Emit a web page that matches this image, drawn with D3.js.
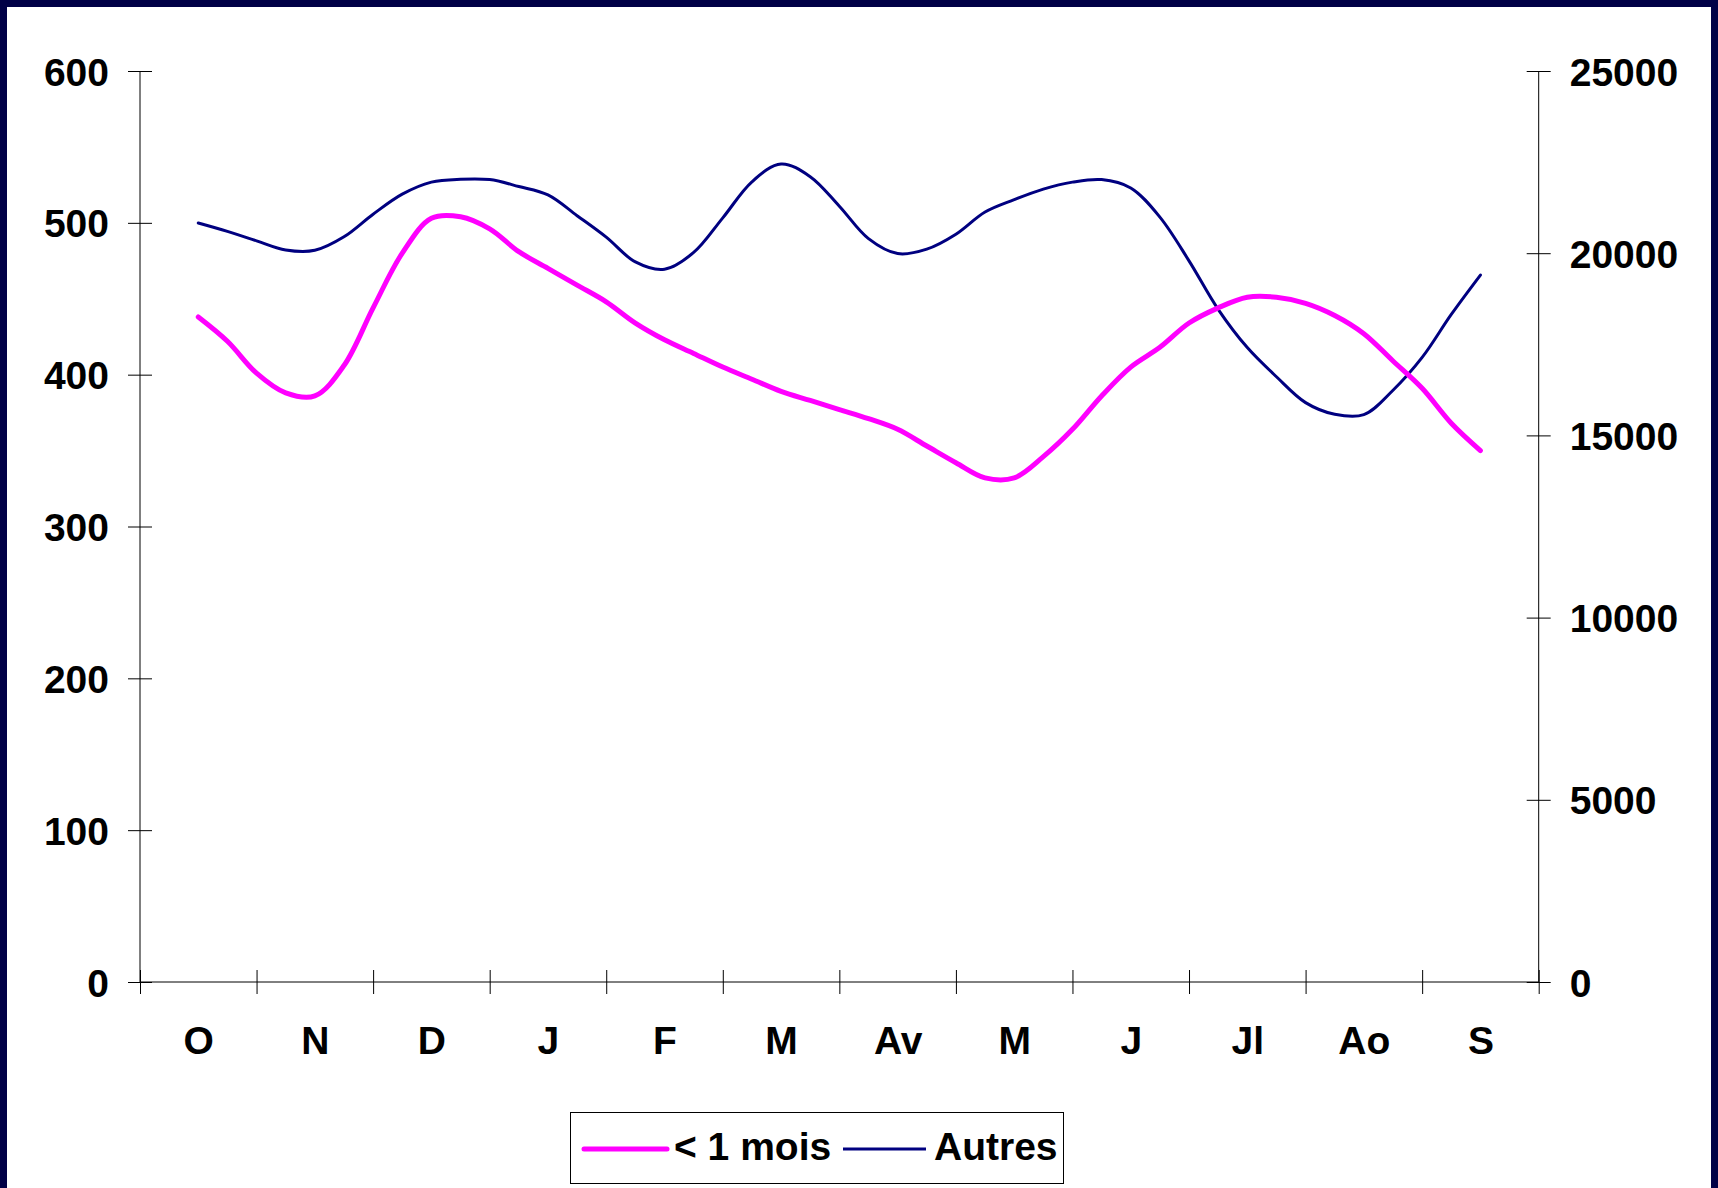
<!DOCTYPE html>
<html>
<head>
<meta charset="utf-8">
<script src="https://cdn.jsdelivr.net/npm/d3@7"></script>
<style>
  html, body { margin: 0; padding: 0; background: #000046; }
  svg { display: block; }
  text { font-family: "Liberation Sans", Arial, sans-serif; font-weight: bold; fill: #000; }
</style>
</head>
<body>
<svg id="chart" width="1718" height="1188"></svg>
<script>
// Months of the season, October to September
const months = ["O", "N", "D", "J", "F", "M", "Av", "M", "J", "Jl", "Ao", "S"];
// Readings are taken four times per month
const readingsPerMonth = 4;

// Cases under one month old (left axis)
const lessThanOneMonth = [438, 422, 401, 388, 386, 406, 444, 480, 503, 504, 496, 481, 470, 459, 448,
  434, 423, 414, 405, 397, 389, 383, 377, 371, 364, 353, 342, 332, 332, 346, 364, 386, 405, 418,
  434, 444, 451, 451, 447, 439, 427, 409, 391, 368, 350];

// All other cases (right axis)
const autres = [20830, 20600, 20340, 20090, 20080, 20450, 21070, 21620, 21950, 22030, 22020, 21830,
  21600, 21030, 20440, 19760, 19560, 20020, 20970, 21960, 22450, 22100, 21290, 20400, 19990, 20110,
  20520, 21130, 21470, 21760, 21950, 22020, 21790, 20990, 19790, 18460, 17410, 16610, 15900, 15580,
  15570, 16240, 17140, 18320, 19400];

const leftTicks = [0, 100, 200, 300, 400, 500, 600];
const rightTicks = [0, 5000, 10000, 15000, 20000, 25000];

const W = 1718, H = 1188;
const svg = d3.select("#chart");

// Frame and white chart area
svg.append("rect").attr("x", 0).attr("y", 0).attr("width", W).attr("height", H).attr("fill", "#000046");
svg.append("rect").attr("x", 7).attr("y", 7).attr("width", 1704).attr("height", H).attr("fill", "#fff");

const plot = { left: 140, right: 1538.7, top: 71, bottom: 982 };

const x = d3.scaleLinear().domain([-0.5, months.length - 0.5]).range([plot.left, plot.right]);
const yL = d3.scaleLinear().domain([0, 600]).range([plot.bottom, plot.top]);
const yR = d3.scaleLinear().domain([0, 25000]).range([plot.bottom, plot.top]);

const axisFont = 39;

// Left axis
const gL = svg.append("g").attr("transform", `translate(${plot.left},0)`)
  .call(d3.axisLeft(yL).tickValues(leftTicks).tickSize(12).tickPadding(19).tickFormat(d3.format("d")));
gL.select(".domain").remove();
gL.selectAll(".tick line").attr("x1", 12).attr("stroke", "#000");
gL.selectAll(".tick text").attr("font-size", axisFont).attr("font-family", null)
  .attr("dy", "0.36em");
svg.append("line").attr("x1", plot.left).attr("x2", plot.left)
  .attr("y1", plot.top).attr("y2", plot.bottom).attr("stroke", "#000").attr("stroke-width", 1);

// Right axis
const gR = svg.append("g").attr("transform", `translate(${plot.right},0)`)
  .call(d3.axisRight(yR).tickValues(rightTicks).tickSize(12).tickPadding(19).tickFormat(d3.format("d")));
gR.select(".domain").remove();
gR.selectAll(".tick line").attr("x1", -12).attr("stroke", "#000");
gR.selectAll(".tick text").attr("font-size", axisFont).attr("font-family", null)
  .attr("dy", "0.36em");
svg.append("line").attr("x1", plot.right).attr("x2", plot.right)
  .attr("y1", plot.top).attr("y2", plot.bottom).attr("stroke", "#000").attr("stroke-width", 1);

// Category axis: tick marks on month boundaries, labels at month centres
const boundaries = d3.range(months.length + 1).map(i => i - 0.5);
const gX = svg.append("g").attr("transform", `translate(0,${plot.bottom})`)
  .call(d3.axisBottom(x).tickValues(boundaries).tickSize(12).tickFormat(""));
gX.select(".domain").remove();
gX.selectAll(".tick line").attr("y1", -12).attr("stroke", "#000");
svg.append("line").attr("x1", plot.left).attr("x2", plot.right)
  .attr("y1", plot.bottom).attr("y2", plot.bottom).attr("stroke", "#000").attr("stroke-width", 1);

const gXL = svg.append("g").attr("transform", `translate(0,${plot.bottom})`)
  .call(d3.axisBottom(x).tickValues(d3.range(months.length)).tickSize(0).tickPadding(0)
    .tickFormat(i => months[i]));
gXL.select(".domain").remove();
gXL.selectAll(".tick text").attr("font-size", axisFont).attr("font-family", null)
  .attr("dy", null).attr("y", 72);

// Series lines
const pos = i => x(i / readingsPerMonth);

const lineL = d3.line().x((d, i) => pos(i)).y(d => yL(d)).curve(d3.curveCatmullRom.alpha(0.5));
const lineR = d3.line().x((d, i) => pos(i)).y(d => yR(d)).curve(d3.curveCatmullRom.alpha(0.5));

svg.append("path").datum(autres).attr("d", lineR)
  .attr("fill", "none").attr("stroke", "#000080").attr("stroke-width", 3)
  .attr("stroke-linejoin", "round").attr("stroke-linecap", "round");

svg.append("path").datum(lessThanOneMonth).attr("d", lineL)
  .attr("fill", "none").attr("stroke", "#ff00ff").attr("stroke-width", 5)
  .attr("stroke-linejoin", "round").attr("stroke-linecap", "round");

// Legend
const legend = svg.append("g");
legend.append("rect").attr("x", 570.5).attr("y", 1112.5).attr("width", 493).attr("height", 71)
  .attr("fill", "#fff").attr("stroke", "#000").attr("stroke-width", 1);
legend.append("line").attr("x1", 584).attr("x2", 667).attr("y1", 1149).attr("y2", 1149)
  .attr("stroke", "#ff00ff").attr("stroke-width", 5).attr("stroke-linecap", "round");
legend.append("text").attr("x", 674).attr("y", 1160).attr("font-size", 39).text("< 1 mois");
legend.append("line").attr("x1", 843).attr("x2", 926).attr("y1", 1149).attr("y2", 1149)
  .attr("stroke", "#000080").attr("stroke-width", 3);
legend.append("text").attr("x", 934).attr("y", 1160).attr("font-size", 39).text("Autres");
</script>
</body>
</html>
